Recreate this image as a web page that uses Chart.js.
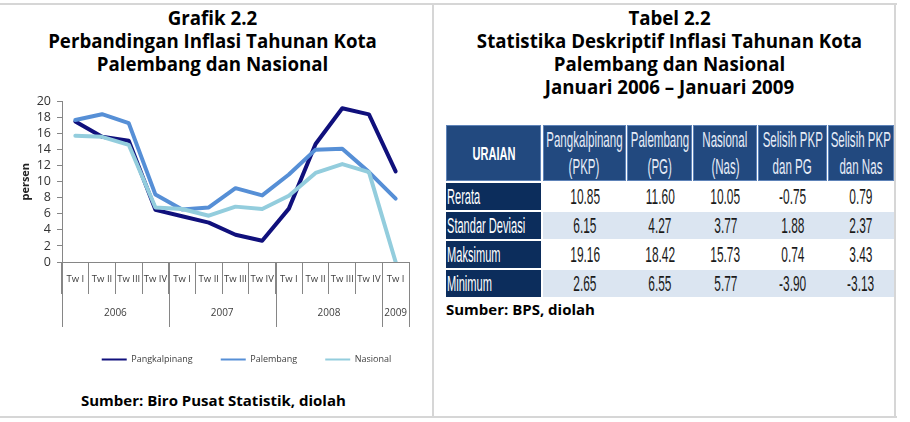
<!DOCTYPE html>
<html><head><meta charset="utf-8">
<script src="https://cdn.jsdelivr.net/npm/chart.js@4.4.1/dist/chart.umd.min.js"></script>
<style>
html,body{margin:0;padding:0;}
body{width:910px;height:422px;background:#fff;position:relative;overflow:hidden;font-family:"Open Sans",sans-serif;color:#000;}
.hline{position:absolute;background:#d6d6d6;}
.title{position:absolute;text-align:center;font-weight:700;font-size:18.7px;line-height:23px;white-space:nowrap;}
.src{position:absolute;font-weight:700;font-size:15px;line-height:18px;white-space:nowrap;}
#chartBox{position:absolute;left:0;top:88px;width:434px;height:286px;}
#tbl{position:absolute;left:446px;top:125px;}
.cell{position:absolute;box-sizing:border-box;display:flex;align-items:center;justify-content:center;overflow:visible;white-space:nowrap;font-family:"Liberation Sans Narrow","Liberation Sans",sans-serif;}
.cn{display:inline-block;transform-origin:center center;}
.hd{background:#22497f;box-shadow:inset 0 0 0 1px #5e83b8;color:#e6ecf7;flex-direction:column;line-height:27px;}
.lab{background:#0c2d5c;color:#fff;justify-content:flex-start;padding-left:1px;}
.lab .cn{transform-origin:left center;}
.val{color:#1a1a1a;}
.alt{background:#dbe5f1;}
</style></head>
<body>
<div class="hline" style="left:0;top:3px;width:897px;height:2px;"></div>
<div class="hline" style="left:0;top:416px;width:897px;height:2px;"></div>
<div class="hline" style="left:894px;top:3px;width:2px;height:415px;"></div>
<div class="hline" style="left:432px;top:3px;width:2px;height:415px;"></div>

<div class="title" style="left:0;width:425px;top:6px;">Grafik 2.2<br>Perbandingan Inflasi Tahunan Kota<br>Palembang dan Nasional</div>
<div class="title" style="left:440px;width:459px;top:6px;">Tabel 2.2<br>Statistika Deskriptif Inflasi Tahunan Kota<br>Palembang dan Nasional<br>Januari 2006 – Januari 2009</div>

<div id="chartBox"><canvas id="c"></canvas></div>
<div class="src" style="left:81px;top:391px;">Sumber: Biro Pusat Statistik, diolah</div>
<div class="src" style="left:446px;top:300px;">Sumber: BPS, diolah</div>

<div id="tbl"></div>

<script>
// ---- chart data ----
const quarters = ['Tw I','Tw II','Tw III','Tw IV','Tw I','Tw II','Tw III','Tw IV','Tw I','Tw II','Tw III','Tw IV','Tw I'];
const years = ['2006','2007','2008','2009'];
const quartersPerYear = [4,4,4,1];
const pangkalpinang = [17.5,15.6,15.1,6.5,5.7,4.9,3.4,2.65,6.65,14.7,19.16,18.4,11.3];
const palembang = [17.7,18.42,17.3,8.4,6.55,6.8,9.2,8.3,10.9,14.0,14.1,11.2,7.9];
const nasional = [15.73,15.6,14.6,6.8,6.6,5.77,6.9,6.6,8.25,11.1,12.2,11.2,0];
const seriesNames = ['Pangkalpinang','Palembang','Nasional'];
const yMin = 0, yMax = 20, yStep = 2;

// ---- table data ----
const tableHeaders = [['URAIAN'],['Pangkalpinang','(PKP)'],['Palembang','(PG)'],['Nasional','(Nas)'],['Selisih PKP','dan PG'],['Selisih PKP','dan Nas']];
const statRows = ['Rerata','Standar Deviasi','Maksimum','Minimum'];
const statPKP = ['10.85','6.15','19.16','2.65'];
const statPG = ['11.60','4.27','18.42','6.55'];
const statNas = ['10.05','3.77','15.73','5.77'];
const statSelisihPG = ['-0.75','1.88','0.74','-3.90'];
const statSelisihNas = ['0.79','2.37','3.43','-3.13'];

// ---- table build ----
(function(){
  const colW = [95,84,66,65,70,66];
  const headH = 56, rowH = 27, gap = 2;
  const FS = 22.5, HFS = 22.5;
  const tbl = document.getElementById('tbl');
  const cols = [statPKP, statPG, statNas, statSelisihPG, statSelisihNas];
  const m = document.createElement('canvas').getContext('2d');
  m.font = FS + 'px "Liberation Sans Narrow","Liberation Sans",sans-serif';
  const k = 84 / m.measureText('Standar Deviasi').width;
  m.font = '700 ' + 19 + 'px "Liberation Sans Narrow","Liberation Sans",sans-serif';
  const kb = 43 / m.measureText('URAIAN').width;
  const colX = []; let acc = 0;
  colW.forEach((w,i)=>{ colX.push(acc); acc += w + (i===0?2:0); });
  function cell(x,y,w,h,cls,lines,fs,kk){
    const d = document.createElement('div');
    d.className = 'cell ' + cls;
    d.style.left = x+'px'; d.style.top = y+'px'; d.style.width = w+'px'; d.style.height = h+'px';
    d.style.fontSize = fs + 'px';
    lines.forEach(t=>{ const s=document.createElement('span'); s.className='cn'; s.textContent=t; s.style.transform='scaleX('+kk.toFixed(3)+')'; d.appendChild(s); });
    tbl.appendChild(d);
    return d;
  }
  tableHeaders.forEach((h,i)=>{
    const d = cell(colX[i],0,colW[i]-(i>0&&i<5?1:0),headH,'hd',h, i===0?19:HFS, i===0?kb:k*0.97);
    if(i===0){ d.style.fontWeight='700'; d.style.color='#fff'; }
  });
  statRows.forEach((r,j)=>{
    const y = headH + gap + j*(rowH+gap);
    cell(colX[0],y,colW[0],rowH,'lab',[r],FS,k*0.93);
    cols.forEach((c,i)=>{
      cell(colX[i+1],y,colW[i+1],rowH,'val'+(j%2===1?' alt':''),[c[j]],FS,k);
    });
  });
})();

// ---- chart ----
const yearPlugin = {
  id:'yearRow',
  afterLayout(chart){
    const lg = chart.legend; if(!lg) return;
    const d = 246.5 - (lg.left + lg.right)/2;
    lg.left += d; lg.right += d;
  },
  afterDraw(chart){
    const x = chart.scales.x, ctx = chart.ctx;
    const half = (x.getPixelForValue(1) - x.getPixelForValue(0))/2;
    const top = x.top;
    ctx.save();
    ctx.strokeStyle = '#868686'; ctx.lineWidth = 1;
    ctx.fillStyle = '#404040';
    ctx.font = '10px "Open Sans"';
    ctx.textAlign = 'center'; ctx.textBaseline = 'middle';
    let idx = 0;
    const drawSep = (px)=>{ ctx.beginPath(); ctx.moveTo(Math.round(px)+0.5, top); ctx.lineTo(Math.round(px)+0.5, top+65); ctx.stroke(); };
    years.forEach((yr,g)=>{
      const l = x.getPixelForValue(idx) - half;
      const r = x.getPixelForValue(idx + quartersPerYear[g] - 1) + half;
      drawSep(l);
      if(g===years.length-1) drawSep(r);
      ctx.fillText(yr, (l+r)/2, top + 51);
      idx += quartersPerYear[g];
    });
    ctx.restore();
  }
};

const mk = (label, data, color, order)=>({label, data, borderColor:color, backgroundColor:color, borderWidth:4, pointRadius:0, pointHoverRadius:0, tension:0, borderJoinStyle:'round', borderCapStyle:'round', order});

new Chart(document.getElementById('c'), {
  type:'line',
  data:{ labels: quarters, datasets:[
    mk(seriesNames[0], pangkalpinang, '#10107c', 2),
    mk(seriesNames[1], palembang, '#568fd6', 1),
    mk(seriesNames[2], nasional, '#93cddd', 0)
  ]},
  options:{
    responsive:true, maintainAspectRatio:false, animation:false,
    layout:{ padding:{ top:12, right:25, left:0, bottom:0 } },
    plugins:{
      tooltip:{enabled:false},
      legend:{ position:'bottom',
        labels:{ boxWidth:25, boxHeight:2, padding:28, color:'#404040', font:{family:'"Open Sans"', size:9},
          sort:(a,b)=>a.datasetIndex-b.datasetIndex,
          generateLabels(chart){ const it = Chart.defaults.plugins.legend.labels.generateLabels(chart); it.forEach(i=>{ i.lineWidth=0; i.fillStyle=i.strokeStyle; }); return it; } } }
    },
    scales:{
      x:{ type:'category', offset:true,
        grid:{ offset:true, drawOnChartArea:false, drawTicks:true, tickLength:32, color:'#868686' },
        border:{ color:'#868686' },
        ticks:{ maxRotation:0, autoSkip:false, padding:-20, color:'#404040', font:{family:'"Open Sans"', size:9.5} },
        afterFit(s){ s.height = 65; } },
      y:{ min:yMin, max:yMax,
        grid:{ drawOnChartArea:false, drawTicks:true, tickLength:5, color:'#868686' },
        border:{ color:'#868686' },
        ticks:{ stepSize:yStep, autoSkip:false, padding:6, color:'#333', font:{family:'"Open Sans"', size:12.5} },
        title:{ display:true, text:'persen', color:'#222', font:{family:'"Open Sans"', size:11, weight:'700'}, padding:{top:19,bottom:0} },
        afterFit(s){ s.width = 62; } }
    }
  },
  plugins:[yearPlugin]
});
</script>
</body></html>
